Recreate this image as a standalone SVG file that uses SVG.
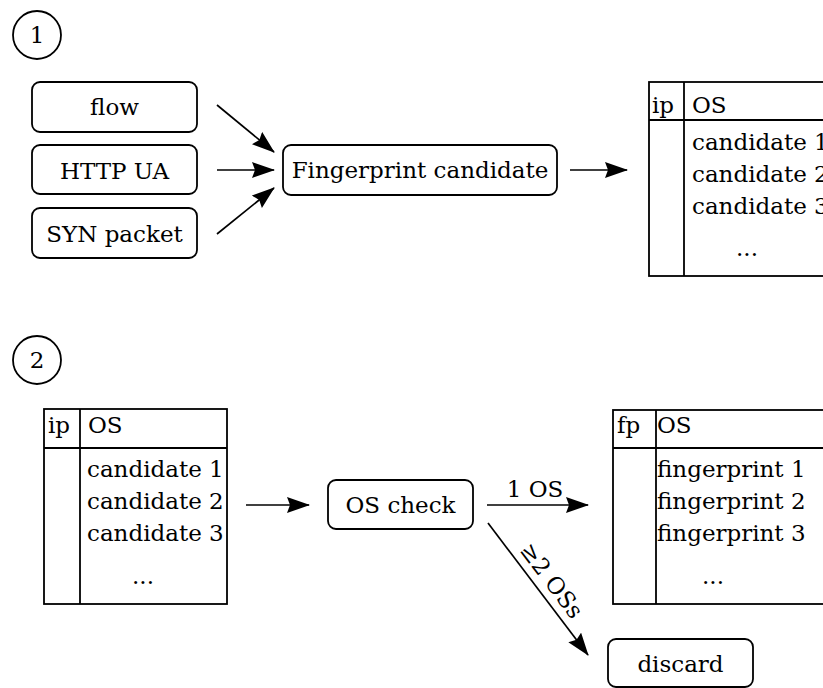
<svg xmlns="http://www.w3.org/2000/svg" width="823" height="688" viewBox="0 0 823 688">
<style>
  text { font-family: "DejaVu Serif", "Liberation Serif", serif; font-size: 23px; fill: #000; }
  .c { text-anchor: middle; }
  .box { fill: #fff; stroke: #000; stroke-width: 1.8; }
  .tbl { fill: #fff; stroke: #000; stroke-width: 1.8; }
  .ln { fill: none; stroke: #000; stroke-width: 1.8; }
  .edge { fill: none; stroke: #000; stroke-width: 1.7; marker-end: url(#arr); }
</style>
<defs>
  <marker id="arr" viewBox="0 0 23 16" refX="22" refY="8" markerWidth="23" markerHeight="16" markerUnits="userSpaceOnUse" orient="auto">
    <path d="M0,0 L23,8 L0,16 L3,8 Z" fill="#000"/>
  </marker>
</defs>
<rect width="823" height="688" fill="#fff"/>

<g id="step1">
  <circle cx="37" cy="35" r="24" class="ln"/>
  <text x="37" y="43" class="c">1</text>
</g>
<g id="step2">
  <circle cx="37" cy="360" r="24" class="ln"/>
  <text x="37" y="368" class="c">2</text>
</g>

<g id="flow">
  <rect x="32" y="82" width="165" height="50" rx="8" class="box"/>
  <text x="114.5" y="115" class="c">flow</text>
</g>
<g id="http">
  <rect x="32" y="145" width="165" height="49" rx="8" class="box"/>
  <text x="114.5" y="179" class="c">HTTP UA</text>
</g>
<g id="syn">
  <rect x="32" y="208" width="165" height="50" rx="8" class="box"/>
  <text x="114.5" y="242" class="c">SYN packet</text>
</g>
<g id="fpcand">
  <rect x="283" y="145" width="274" height="50" rx="8" class="box"/>
  <text x="420" y="178" class="c">Fingerprint candidate</text>
</g>

<g id="table1">
  <rect x="649" y="82" width="190" height="194" class="tbl"/>
  <line x1="649" y1="120" x2="840" y2="120" class="ln"/>
  <line x1="684" y1="82" x2="684" y2="276" class="ln"/>
  <text x="652" y="113">ip</text>
  <text x="692" y="113">OS</text>
  <text x="692" y="150">candidate 1</text>
  <text x="692" y="182">candidate 2</text>
  <text x="692" y="214">candidate 3</text>
  <text x="747" y="256" class="c">...</text>
</g>

<g id="table2">
  <rect x="44" y="409" width="183" height="195" class="tbl"/>
  <line x1="44" y1="448" x2="227" y2="448" class="ln"/>
  <line x1="80" y1="409" x2="80" y2="604" class="ln"/>
  <text x="48" y="433">ip</text>
  <text x="88" y="433">OS</text>
  <text x="87" y="477">candidate 1</text>
  <text x="87" y="509">candidate 2</text>
  <text x="87" y="541">candidate 3</text>
  <text x="143" y="584" class="c">...</text>
</g>

<g id="oscheck">
  <rect x="328" y="480" width="145" height="49" rx="8" class="box"/>
  <text x="400.5" y="513" class="c">OS check</text>
</g>

<g id="table3">
  <rect x="613" y="410" width="226" height="194" class="tbl"/>
  <line x1="613" y1="448" x2="840" y2="448" class="ln"/>
  <line x1="656" y1="410" x2="656" y2="604" class="ln"/>
  <text x="617" y="433">fp</text>
  <text x="657" y="433">OS</text>
  <text x="657" y="477">fingerprint 1</text>
  <text x="657" y="509">fingerprint 2</text>
  <text x="657" y="541">fingerprint 3</text>
  <text x="713" y="584" class="c">...</text>
</g>

<g id="discard">
  <rect x="608" y="639" width="145" height="48" rx="8" class="box"/>
  <text x="680.5" y="672" class="c">discard</text>
</g>

<g id="connectors">
  <line x1="217" y1="105" x2="274" y2="152" class="edge"/>
  <line x1="217" y1="170" x2="274" y2="170" class="edge"/>
  <line x1="217" y1="234" x2="274" y2="188" class="edge"/>
  <line x1="570" y1="170" x2="627" y2="170" class="edge"/>
  <line x1="246" y1="505" x2="309" y2="505" class="edge"/>
  <line x1="487" y1="505" x2="588" y2="505" class="edge"/>
  <line x1="488" y1="523" x2="588" y2="655" class="edge"/>
  <text x="535" y="497" class="c">1 OS</text>
  <text transform="translate(539,590) rotate(52.9)" x="0" y="-8" class="c">≥2 OSs</text>
</g>
</svg>
